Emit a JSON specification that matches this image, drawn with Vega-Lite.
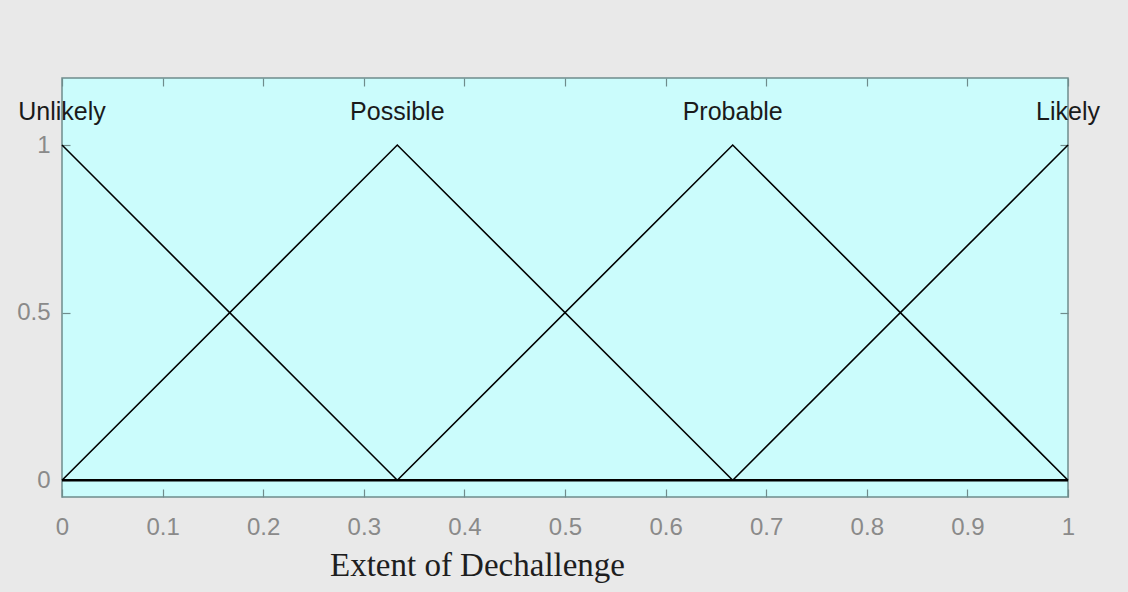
{
  "$schema": "https://vega.github.io/schema/vega-lite/v6.json",
  "autosize": "none",
  "width": 1006,
  "height": 419,
  "padding": {"left": 62, "top": 78, "right": 60, "bottom": 95},
  "background": "#e9e9e9",
  "config": {
    "view": {"fill": "#cbfcfc", "stroke": "#6f8c8c", "strokeWidth": 1.5},
    "axis": {"grid": false, "domain": false, "labelFont": "Liberation Sans", "labelFontSize": 24, "labelColor": "#8a8a8a", "tickColor": "#6f8c8c", "tickWidth": 1.2, "labelFlush": false, "labelOverlap": false}
  },
  "datasets": {
    "mf": [
      {"x": 0, "y": 1, "set": "Unlikely"},
      {"x": 0.3333, "y": 0, "set": "Unlikely"},
      {"x": 0, "y": 0, "set": "Possible"},
      {"x": 0.3333, "y": 1, "set": "Possible"},
      {"x": 0.6667, "y": 0, "set": "Possible"},
      {"x": 0.3333, "y": 0, "set": "Probable"},
      {"x": 0.6667, "y": 1, "set": "Probable"},
      {"x": 1, "y": 0, "set": "Probable"},
      {"x": 0.6667, "y": 0, "set": "Likely"},
      {"x": 1, "y": 1, "set": "Likely"}
    ],
    "labels": [
      {"x": 0, "y": 1.1, "name": "Unlikely"},
      {"x": 0.3333, "y": 1.1, "name": "Possible"},
      {"x": 0.6667, "y": 1.1, "name": "Probable"},
      {"x": 1, "y": 1.1, "name": "Likely"}
    ],
    "base": [{"x": 0, "x2": 1, "y": 0}]
  },
  "layer": [
    {
      "data": {"name": "base"},
      "mark": {"type": "rule", "color": "#000000", "strokeWidth": 2.5},
      "encoding": {
        "x": {"field": "x", "type": "quantitative", "scale": {"domain": [0, 1], "nice": false, "zero": false},
              "axis": {"orient": "top", "values": [0,0.1,0.2,0.3,0.4,0.5,0.6,0.7,0.8,0.9,1], "labels": false, "tickSize": -8, "title": null}},
        "x2": {"field": "x2"},
        "y": {"field": "y", "type": "quantitative", "scale": {"domain": [-0.05, 1.2], "nice": false, "zero": false},
              "axis": {"orient": "right", "values": [0, 0.5, 1], "labels": false, "tickSize": -8, "title": null}}
      }
    },
    {
      "data": {"name": "mf"},
      "mark": {"type": "line", "color": "#000000", "strokeWidth": 1.6},
      "encoding": {
        "x": {"field": "x", "type": "quantitative",
              "axis": {"orient": "bottom", "values": [0,0.1,0.2,0.3,0.4,0.5,0.6,0.7,0.8,0.9,1], "format": "~g", "tickSize": -8, "labelPadding": 26,
                       "title": "Extent of Dechallenge", "titleFont": "Liberation Serif", "titleFontSize": 33, "titleFontWeight": "normal", "titleColor": "#1e1e1e",
                       "titleX": 415, "titleY": 78, "titleBaseline": "alphabetic", "titleAlign": "center"}},
        "y": {"field": "y", "type": "quantitative",
              "axis": {"orient": "left", "values": [0, 0.5, 1], "format": "~g", "tickSize": -8, "labelPadding": 20, "title": null}},
        "detail": {"field": "set"}
      }
    },
    {
      "data": {"name": "labels"},
      "mark": {"type": "text", "font": "Liberation Sans", "fontSize": 25, "color": "#1a1a1a", "align": "center", "baseline": "middle"},
      "encoding": {
        "x": {"field": "x", "type": "quantitative", "axis": null},
        "y": {"field": "y", "type": "quantitative", "axis": null},
        "text": {"field": "name"}
      }
    }
  ]
}
